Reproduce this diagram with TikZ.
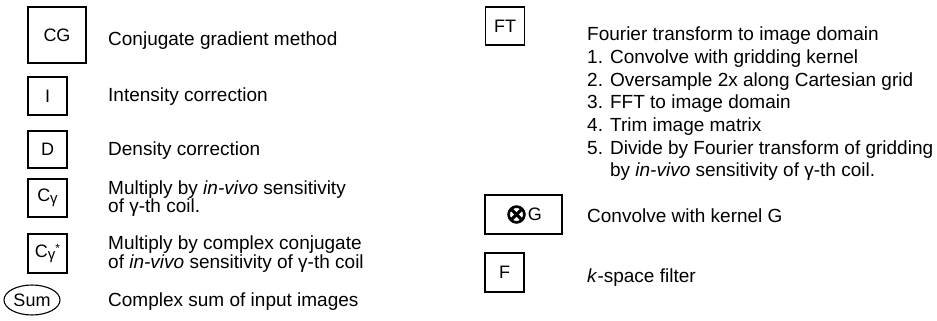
\documentclass[tikz,border=0pt]{standalone}
\usepackage{fontspec}
\setmainfont{Liberation Sans}
\newfontfamily\symfnt[FakeBold=2.5]{DejaVu Sans}
\usetikzlibrary{shapes.geometric}
\begin{document}
\begin{tikzpicture}[x=1pt,y=-1pt,
  box/.style={draw, line width=1.1pt, inner sep=0pt, font=\fontsize{18}{18}\selectfont},
  lbl/.style={anchor=base west, inner sep=0pt, font=\fontsize{19}{22}\selectfont},
  ]
\useasboundingbox (0,0) rectangle (937,321);
% left column boxes
\node[box, minimum width=58pt, minimum height=56pt] (cg) at (57,35) {CG};
\node[box, minimum width=39pt, minimum height=38pt] (ib) at (47.5,96) {I};
\node[box, minimum width=39pt, minimum height=37pt] (db) at (47.5,149.5) {D};
\node[box, minimum width=39pt, minimum height=38pt] (cgam) at (47.5,198) {C\raisebox{-2pt}{\fontsize{15}{15}\selectfont γ}};
\node[box, minimum width=39pt, minimum height=39pt] (cgst) at (47.5,253.5) {C\raisebox{-2pt}{\fontsize{15}{15}\selectfont γ}\raisebox{5pt}{\fontsize{12}{12}\selectfont *}};
\node[draw, line width=1.1pt, ellipse, minimum width=56pt, minimum height=30pt, inner sep=0pt, font=\fontsize{18}{18}\selectfont] (sum) at (32,300) {Sum};
% left column texts
\node[lbl] (cgt) at (108,46) {Conjugate gradient method};
\node[lbl] (it) at (108,101) {Intensity correction};
\node[lbl] (dt) at (108,155) {Density correction};
\node[lbl] (c1a) at (108,194) {Multiply by \textit{in-vivo} sensitivity};
\node[lbl] (c1b) at (108,212.5) {of γ-th coil.};
\node[lbl] (c2a) at (108,249.5) {Multiply by complex conjugate};
\node[lbl] (c2b) at (108,268) {of \textit{in-vivo} sensitivity of γ-th coil};
\node[lbl] (st) at (108,306) {Complex sum of input images};
% right column boxes
\node[box, minimum width=39pt, minimum height=38pt] (ft) at (505,26) {FT};
\node[box, minimum width=77pt, minimum height=39pt] (gb) at (523.5,214.5) {\raisebox{-2.5pt}{\symfnt\fontsize{27}{27}\selectfont ⊗}G};
\node[box, minimum width=39pt, minimum height=39pt] (fb) at (504.5,272.5) {F};
% right column texts
\node[lbl] (r1) at (587,41) {Fourier transform to image domain};
\node[lbl] (r2) at (587,63.6) {1. Convolve with gridding kernel};
\node[lbl] (r3) at (587,86.2) {2. Oversample 2x along Cartesian grid};
\node[lbl] (r4) at (587,108.8) {3. FFT to image domain};
\node[lbl] (r5) at (587,131.4) {4. Trim image matrix};
\node[lbl] (r6) at (587,154) {5. Divide by Fourier transform of gridding};
\node[lbl] (r7) at (587,176.6) {\phantom{5. }by \textit{in-vivo} sensitivity of γ-th coil.};
\node[lbl] (gt) at (587,222) {Convolve with kernel G};
\node[lbl] (ftt) at (587,282) {\textit{k}-space filter};
\end{tikzpicture}
\end{document}
